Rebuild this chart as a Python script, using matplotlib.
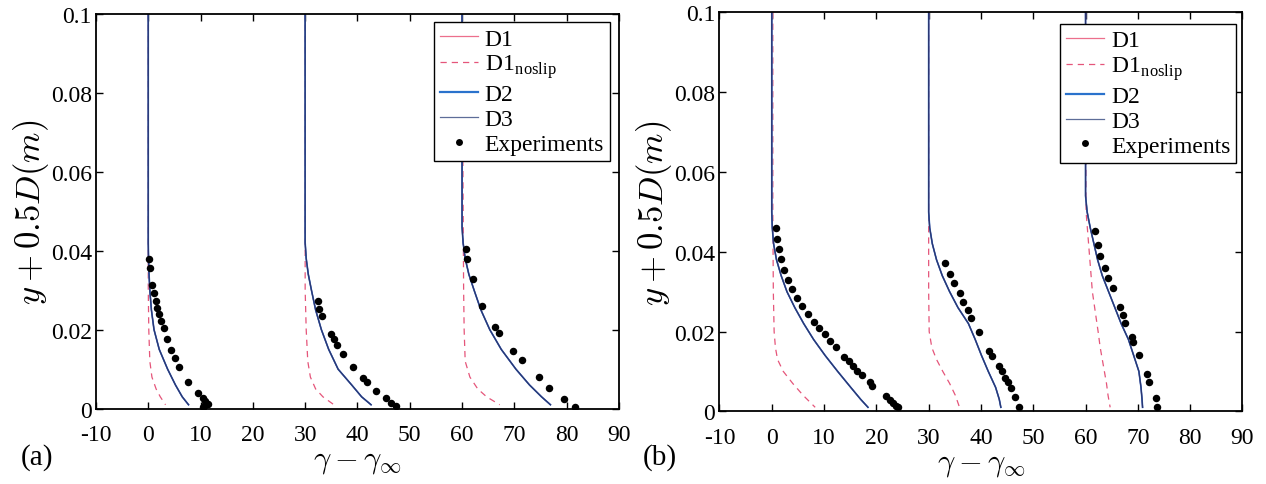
import numpy as np
import matplotlib
matplotlib.use('Agg')
import matplotlib.pyplot as plt
from matplotlib.lines import Line2D

plt.rcParams['font.family'] = ['Liberation Serif', 'DejaVu Serif']
plt.rcParams['mathtext.fontset'] = 'cm'
plt.rcParams['axes.unicode_minus'] = False

# each profile is shifted by 30 along the x axis
offsets = [0, 30, 60]

# ---- (a) ----
# simulation profiles (D1 / D2 / D3 coincide)
ys_a = [0.1, 0.046, 0.042, 0.038, 0.034, 0.030, 0.025, 0.020, 0.015, 0.010, 0.006, 0.003, 0.001]
sim_a = [
    [0, 0, 0, 0.05, 0.15, 0.3, 0.6, 1.1, 2.1, 3.7, 5.2, 6.5, 7.7],
    [0, 0, 0, 0.2, 0.6, 1.2, 2.0, 3.1, 4.5, 6.3, 8.9, 10.8, 12.6],
    [0, 0, 0.2, 0.6, 1.3, 2.3, 3.6, 5.3, 7.5, 10.3, 12.9, 15.2, 16.9],
]
# no-slip profiles (D1_noslip)
yd_a = [0.1, 0.03, 0.02, 0.012, 0.008, 0.005, 0.003, 0.001]
noslip_a = [
    [0, 0, 0.1, 0.3, 0.7, 1.5, 2.3, 3.3],
    [0, 0, 0.2, 0.5, 1.0, 2.0, 3.4, 5.5],
    [0, 0.3, 0.4, 0.6, 1.5, 3.0, 4.7, 7.2],
]
# measurements
exp_a_x = [
    [0.19, 0.32, 0.7, 1.08, 1.46, 1.72, 2.04, 2.42, 2.93, 3.57, 4.33, 5.1, 5.92,
     7.58, 9.55, 10.4, 10.9, 11.5, 10.7, 10.5],
    [2.4, 2.7, 3.3, 5.0, 5.45, 6.05, 7.3, 9.2, 11.1, 11.9, 13.5, 15.4, 16.5, 17.3],
    [0.74, 1.0, 2.0, 3.9, 6.35, 7.1, 9.8, 11.4, 14.7, 16.7, 19.5, 21.6],
]
exp_a_y = [
    [0.0379, 0.0357, 0.0313, 0.0292, 0.0273, 0.0256, 0.0239, 0.0221, 0.0205, 0.0176,
     0.0149, 0.0127, 0.0106, 0.0068, 0.0039, 0.0026, 0.0019, 0.0012, 0.0008, 0.0003],
    [0.0272, 0.0252, 0.0235, 0.0189, 0.0176, 0.0162, 0.0138, 0.0105, 0.0078, 0.0068,
     0.0046, 0.0026, 0.0014, 0.0008],
    [0.0404, 0.0379, 0.0327, 0.0261, 0.0206, 0.0191, 0.0146, 0.0122, 0.0079, 0.0052,
     0.0024, 0.0003],
]

# ---- (b) ----
ys_b = [0.1, 0.054, 0.05, 0.046, 0.042, 0.038, 0.034, 0.030, 0.026, 0.022, 0.018,
        0.014, 0.010, 0.006, 0.003, 0.001]
sim_b = [
    [0, 0, 0, 0.1, 0.35, 0.9, 1.8, 2.9, 4.4, 6.1, 8.0, 10.2, 12.6, 15.1, 17.0, 18.4],
    [0, 0, 0, 0.2, 0.7, 1.5, 2.6, 4.0, 5.6, 7.6, 8.9, 10.1, 11.4, 12.8, 13.5, 13.8],
    [0, 0, 0.3, 0.9, 1.6, 2.3, 3.2, 4.4, 5.6, 6.8, 8.2, 9.2, 10.2, 10.6, 10.8, 10.9],
]
yd_b = [0.1, 0.05, 0.03, 0.02, 0.016, 0.013, 0.010, 0.007, 0.004, 0.001]
noslip_b = [
    [0.2, 0.2, 0.3, 0.45, 0.7, 1.1, 2.2, 4.0, 6.0, 8.3],
    [0, 0, 0, 0.1, 0.6, 1.5, 2.7, 4.0, 5.1, 5.9],
    [0, 0.1, 1.3, 2.4, 2.8, 3.2, 3.6, 4.0, 4.3, 4.7],
]
exp_b_x = [
    [0.83, 0.96, 1.34, 1.72, 2.36, 3.18, 3.89, 4.9, 5.8, 6.9, 8.0, 9.0, 10.1, 11.1,
     12.2, 13.8, 14.8, 15.6, 16.3, 17.3, 18.7, 19.2, 21.8, 22.6, 23.2, 23.8, 24.1],
    [3.06, 4.1, 4.8, 5.9, 6.6, 7.5, 8.1, 9.7, 11.6, 12.2, 13.5, 14.0, 14.6, 15.1,
     15.7, 16.6, 17.3],
    [1.8, 2.3, 2.8, 3.8, 4.3, 5.2, 6.5, 7.1, 7.6, 8.9, 9.1, 10.3, 11.8, 12.2, 13.4, 13.6],
]
exp_b_y = [
    [0.0459, 0.0433, 0.0408, 0.0382, 0.0355, 0.0329, 0.0306, 0.0284, 0.0264, 0.0244,
     0.0225, 0.0209, 0.0193, 0.0176, 0.0162, 0.0137, 0.0125, 0.0113, 0.0102, 0.0091,
     0.0074, 0.0064, 0.0039, 0.0028, 0.0020, 0.0014, 0.0010],
    [0.0372, 0.0343, 0.0321, 0.0296, 0.0273, 0.0253, 0.0234, 0.0198, 0.0152, 0.0138,
     0.0113, 0.0102, 0.0083, 0.0073, 0.0058, 0.0035, 0.0012],
    [0.0451, 0.0418, 0.0389, 0.0360, 0.0335, 0.0308, 0.0262, 0.0242, 0.0222, 0.0187,
     0.0173, 0.0141, 0.0093, 0.0073, 0.0033, 0.0010],
]

x_ticks = np.arange(-10, 91, 10)
y_ticks = [0, 0.02, 0.04, 0.06, 0.08, 0.1]
y_tick_labels = ['0', '0.02', '0.04', '0.06', '0.08', '0.1']

c_d1 = '#ec6f8c'
c_d1ns = '#e5557a'
c_d2 = '#2a72cc'
c_d3 = '#2b3670'


def draw_panel(ax, ys, sim, yd, noslip, ex, ey, leg_anchor):
    for k, off in enumerate(offsets):
        x = np.array(sim[k]) + off
        ax.plot(x, ys, color=c_d1, lw=0.9)
        ax.plot(np.array(noslip[k]) + off, yd, color=c_d1ns, lw=0.9,
                dashes=(5, 4))
        ax.plot(x, ys, color=c_d2, lw=1.2)
        ax.plot(x, ys, color=c_d3, lw=0.9)
        ax.plot(np.array(ex[k]) + off, ey[k], 'o', color='black', ms=5.4,
                mew=0)

    ax.set_xlim(-10, 90)
    ax.set_ylim(0, 0.1)
    ax.set_xticks(x_ticks)
    ax.set_xticklabels([str(v) for v in x_ticks])
    ax.set_yticks(y_ticks)
    ax.set_yticklabels(y_tick_labels)
    ax.tick_params(direction='in', top=True, right=True, length=5, width=1,
                   labelsize=17)
    ax.tick_params(axis='x', pad=11)
    ax.tick_params(axis='y', pad=3)
    for s in ax.spines.values():
        s.set_linewidth(1.3)
    ax.set_xlabel(r'$\gamma-\gamma_\infty$', fontsize=22, labelpad=1)
    ax.set_ylabel(r'$y+0.5D(m)$', fontsize=25, labelpad=0)

    handles = [
        Line2D([], [], color=c_d1, lw=0.9),
        Line2D([], [], color=c_d1ns, lw=0.9, dashes=(5, 4)),
        Line2D([], [], color=c_d2, lw=1.6),
        Line2D([], [], color='#5d6d98', lw=0.9),
        Line2D([], [], ls='none', marker='o', color='black', ms=5.0, mew=0),
    ]
    labels = ['D1', r'D1$_{\mathregular{noslip}}$', 'D2', 'D3', 'Experiments']
    leg = ax.legend(handles, labels, loc='upper right', bbox_to_anchor=leg_anchor,
                    fontsize=17, frameon=True, fancybox=False, framealpha=1,
                    edgecolor='black', borderpad=0.25, labelspacing=0.14,
                    handlelength=1.6, handletextpad=0.3, borderaxespad=0)
    leg.get_frame().set_linewidth(1.0)


fig = plt.figure(figsize=(12.66, 4.85), dpi=100)
ax_a = fig.add_axes([0.0758, 0.1553, 0.4131, 0.8148])
ax_b = fig.add_axes([0.5683, 0.1499, 0.4131, 0.8225])

draw_panel(ax_a, ys_a, sim_a, yd_a, noslip_a, exp_a_x, exp_a_y, (0.983, 0.978))
draw_panel(ax_b, ys_b, sim_b, yd_b, noslip_b, exp_b_x, exp_b_y, (0.988, 0.971))

fig.text(0.016, 0.056, '(a)', fontsize=21, ha='left', va='center')
fig.text(0.508, 0.056, '(b)', fontsize=21, ha='left', va='center')

fig.savefig('out.png', dpi=100)
